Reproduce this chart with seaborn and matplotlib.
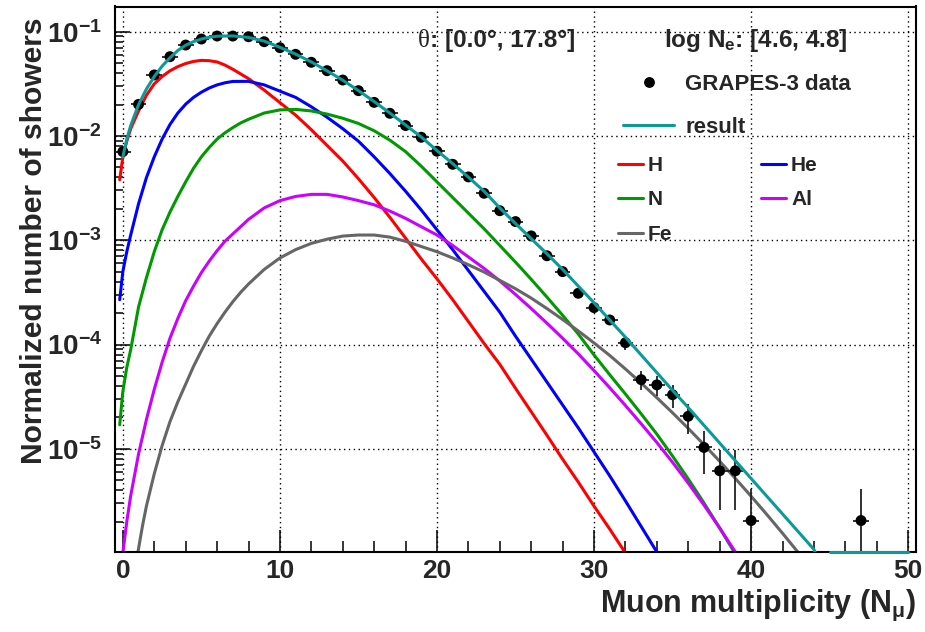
import numpy as np
import matplotlib
matplotlib.use("Agg")
import matplotlib.pyplot as plt
import seaborn as sns
from matplotlib.lines import Line2D
from matplotlib.ticker import FixedLocator, FixedFormatter, MultipleLocator, LogLocator, NullFormatter

# ---------------- data ----------------
mult = list(range(0, 41)) + [47]
data_y = [7.08e-3, 2.01e-2, 3.85e-2, 5.76e-2, 7.45e-2, 8.51e-2, 9.09e-2, 9.09e-2, 8.95e-2, 8.02e-2,
          7.03e-2, 6.07e-2, 5.09e-2, 4.23e-2, 3.44e-2, 2.72e-2, 2.10e-2, 1.65e-2, 1.26e-2, 9.72e-3,
          7.14e-3, 5.35e-3, 4.05e-3, 2.82e-3, 1.92e-3, 1.51e-3, 1.10e-3, 7.1e-4, 5.0e-4, 3.1e-4,
          2.26e-4, 1.72e-4, 1.04e-4, 4.6e-5, 4.1e-5, 3.3e-5, 2.05e-5, 1.03e-5, 6.15e-6, 6.15e-6,
          2.05e-6, 2.05e-6]
data_err = [1.2e-4, 2.0e-4, 2.8e-4, 3.4e-4, 3.9e-4, 4.2e-4, 4.3e-4, 4.3e-4, 4.3e-4, 4.1e-4,
            3.8e-4, 3.5e-4, 3.2e-4, 2.9e-4, 2.7e-4, 2.4e-4, 2.1e-4, 1.8e-4, 1.6e-4, 1.4e-4,
            1.2e-4, 1.05e-4, 9.1e-5, 7.6e-5, 6.3e-5, 5.6e-5, 4.7e-5, 3.8e-5, 3.2e-5, 2.5e-5,
            2.15e-5, 1.9e-5, 1.46e-5, 9.7e-6, 9.2e-6, 8.2e-6, 6.5e-6, 4.6e-6, 3.55e-6, 3.55e-6,
            2.05e-6, 2.05e-6]
bin_half_width = 0.5

h_x = [-0.2, 0, 0.25, 0.5, 1, 1.5, 2, 2.5, 3, 3.5, 4, 4.5, 5, 5.5, 6, 6.5, 7] + list(range(8, 33))
h_log10 = [-2.42, -2.20, -2.05, -1.93, -1.76, -1.61, -1.50, -1.43, -1.375, -1.335, -1.305,
           -1.285, -1.275, -1.278, -1.29, -1.32, -1.36,
           -1.45, -1.56, -1.68, -1.80, -1.94, -2.09, -2.24, -2.41, -2.59, -2.78,
           -2.98, -3.18, -3.37, -3.57, -3.78, -3.99, -4.19, -4.42, -4.645, -4.87,
           -5.10, -5.32, -5.55, -5.77, -6.0]

he_x = [-0.2, 0, 0.25, 0.5, 1, 1.5, 2, 2.5, 3, 3.5, 4, 4.5, 5, 5.5, 6, 6.5, 7] + list(range(8, 35))
he_log10 = [-3.57, -3.30, -3.11, -2.95, -2.65, -2.40, -2.20, -2.03, -1.89, -1.78, -1.695,
            -1.63, -1.58, -1.54, -1.51, -1.49, -1.477,
            -1.476, -1.51, -1.57, -1.63, -1.72, -1.82, -1.93, -2.05, -2.20, -2.36,
            -2.53, -2.71, -2.90, -3.09, -3.29, -3.49, -3.69, -3.92, -4.14, -4.36,
            -4.58, -4.80, -5.03, -5.26, -5.50, -5.745, -5.99]

n_x = [-0.2, 0, 0.25, 0.5, 1, 1.5, 2, 2.5, 3, 3.5, 4, 4.5, 5, 5.5, 6, 6.5, 7, 7.5] + list(range(8, 40))
n_log10 = [-4.77, -4.45, -4.22, -4.05, -3.64, -3.36, -3.11, -2.90, -2.73, -2.58, -2.44,
           -2.31, -2.20, -2.11, -2.03, -1.97, -1.92, -1.875,
           -1.84, -1.78, -1.75, -1.745, -1.76, -1.79, -1.83, -1.88, -1.95, -2.04,
           -2.15, -2.29, -2.44, -2.59, -2.74, -2.89, -3.05, -3.21, -3.375, -3.545,
           -3.72, -3.90, -4.10, -4.29, -4.475, -4.665, -4.86, -5.07, -5.29, -5.52,
           -5.76, -6.01]

al_x = [0, 0.25, 0.5, 1, 1.5, 2, 2.5, 3, 3.5, 4, 4.5, 5, 5.5, 6, 6.5, 7] + list(range(8, 40))
al_log10 = [-6.0, -5.70, -5.45, -5.05, -4.72, -4.43, -4.17, -3.94, -3.75, -3.58, -3.44,
            -3.31, -3.20, -3.10, -3.01, -2.94,
            -2.80, -2.69, -2.62, -2.58, -2.56, -2.56, -2.585, -2.62, -2.66, -2.72,
            -2.79, -2.87, -2.95, -3.05, -3.16, -3.27, -3.39, -3.52, -3.655, -3.795,
            -3.94, -4.09, -4.25, -4.415, -4.585, -4.76, -4.94, -5.13, -5.33, -5.54,
            -5.76, -5.99]

fe_x = [0.95, 1.25, 1.5, 2, 2.5, 3, 3.5, 4, 4.5, 5, 5.5, 6, 6.5, 7, 7.5] + list(range(8, 44)) + [43.2]
fe_log10 = [-6.0, -5.74, -5.55, -5.24, -4.97, -4.74, -4.55, -4.38, -4.21, -4.06, -3.92,
            -3.80, -3.69, -3.59, -3.50,
            -3.42, -3.28, -3.17, -3.09, -3.03, -2.99, -2.96, -2.95, -2.95, -2.97,
            -3.01, -3.06, -3.11, -3.17, -3.235, -3.305, -3.385, -3.465, -3.555, -3.655,
            -3.76, -3.87, -3.985, -4.105, -4.235, -4.37, -4.51, -4.655, -4.805, -4.96,
            -5.12, -5.285, -5.455, -5.63, -5.81, -5.995, -6.03]

res_x = [0, 0.25, 0.5, 1, 1.5, 2, 2.5, 3, 3.5, 4, 4.5, 5, 5.5, 6] + list(range(7, 45)) + [44.1]
res_log10 = [-2.20, -2.03, -1.90, -1.70, -1.55, -1.43, -1.33, -1.25, -1.18, -1.13, -1.095,
             -1.07, -1.053, -1.043,
             -1.04, -1.055, -1.09, -1.15, -1.215, -1.29, -1.375, -1.465, -1.565, -1.67,
             -1.78, -1.895, -2.01, -2.14, -2.265, -2.395, -2.53, -2.69, -2.84, -2.985,
             -3.13, -3.28, -3.44, -3.60, -3.765, -3.93, -4.10, -4.27, -4.44, -4.605,
             -4.775, -4.945, -5.115, -5.285, -5.455, -5.625, -5.795, -5.965, -6.0]
res_tail_x = [45, 50]

x_major_ticks = [0, 10, 20, 30, 40, 50]
y_major_ticks = [1e-5, 1e-4, 1e-3, 1e-2, 1e-1]
y_tick_labels = [r'$10^{-5}$', r'$10^{-4}$', r'$10^{-3}$', r'$10^{-2}$', r'$10^{-1}$']
y_min, y_max = 1.03e-6, 0.1745

c_h, c_he, c_n, c_al, c_fe, c_res = '#ff0000', '#0000ff', '#009900', '#cc00ff', '#666666', '#0a9a9a'

# ---------------- style ----------------
sns.set_style("white")
plt.rcParams['font.family'] = ['Liberation Sans', 'DejaVu Sans']
plt.rcParams['font.weight'] = 'bold'
plt.rcParams['axes.labelweight'] = 'bold'
plt.rcParams['mathtext.fontset'] = 'custom'
for k in ('rm', 'it', 'bf', 'sf'):
    plt.rcParams['mathtext.' + k] = 'Liberation Sans:bold'

W, H = 925, 632
fig = plt.figure(figsize=(W / 100, H / 100), dpi=100)
L, R, T, B = 115, 916, 6.5, 551.7
ax = fig.add_axes([L / W, 1 - B / H, (R - L) / W, (B - T) / H])
ax.set_yscale('log')
ax.set_xlim(-0.5, 50.5)
ax.set_ylim(y_min, y_max)

lw = 2.2
for xs, lg, col in [(h_x, h_log10, c_h), (he_x, he_log10, c_he), (n_x, n_log10, c_n),
                    (al_x, al_log10, c_al), (fe_x, fe_log10, c_fe)]:
    sns.lineplot(x=xs, y=10 ** np.array(lg), ax=ax, color=col, lw=lw,
                 estimator=None, sort=False, legend=False, zorder=2)

dy = np.array(data_y)
de = np.array(data_err)
lo = np.minimum(de, 0.9999 * dy)
ax.errorbar(mult, dy, yerr=[lo, de], xerr=bin_half_width, fmt='none',
            ecolor='#222222', elinewidth=1.3, capsize=0, zorder=3)
sns.scatterplot(x=mult, y=dy, ax=ax, color='black', s=62, edgecolor='none',
                zorder=4, legend=False)

sns.lineplot(x=res_x, y=10 ** np.array(res_log10), ax=ax, color=c_res, lw=lw,
             estimator=None, sort=False, legend=False, zorder=5)
sns.lineplot(x=res_tail_x, y=[y_min] * len(res_tail_x), ax=ax, color=c_res, lw=lw,
             estimator=None, sort=False, legend=False, zorder=6, clip_on=False)

# ---------------- axes ----------------
ax.grid(True, which='major', color='black', linestyle=(0, (1, 2.5)), linewidth=1.0)
ax.xaxis.set_major_locator(FixedLocator(x_major_ticks))
ax.xaxis.set_minor_locator(MultipleLocator(2))
ax.yaxis.set_major_locator(FixedLocator(y_major_ticks))
ax.yaxis.set_major_formatter(FixedFormatter(y_tick_labels))
ax.yaxis.set_minor_locator(LogLocator(base=10, subs=np.arange(2, 10)))
ax.yaxis.set_minor_formatter(NullFormatter())
ax.tick_params(axis='x', which='major', direction='in', length=15.6, width=1.1,
               labelsize=19, pad=5.5, color='black', bottom=True, top=False)
ax.tick_params(axis='x', which='minor', direction='in', length=7.7, width=1.1,
               color='black', bottom=True, top=False)
ax.tick_params(axis='y', which='major', direction='in', length=10.8, width=1.1,
               labelsize=20, pad=9.5, color='black', left=True, right=False)
ax.tick_params(axis='y', which='minor', direction='in', length=5.4, width=1.1,
               color='black', left=True, right=False)
for s in ax.spines.values():
    s.set_linewidth(1.5)
    s.set_color('black')

ax.set_xlabel(r'Muon multiplicity (N$_{\mu}$)', fontsize=22, fontweight='bold',
              loc='right', labelpad=3)
ax.set_ylabel('Normalized number of showers', fontsize=21.6, fontweight='bold', loc='top')
ax.yaxis.set_label_coords(-0.0836, 0.979)

# ---------------- annotations ----------------
th = fig.text(418 / W, 1 - 47 / H, 'θ', family=['Liberation Serif', 'DejaVu Serif'],
              fontweight='normal', fontsize=18, va='baseline')
ax.annotate(': [0.0°, 17.8°]', xy=(1, 0), xycoords=th, va='bottom', ha='left',
            fontsize=17.5, fontweight='bold')
fig.text(664 / W, 1 - 47 / H, r'log N$_{e}$: [4.6, 4.8]', fontsize=17.5,
         fontweight='bold', va='baseline')

# ---------------- legends ----------------
h1 = [Line2D([], [], ls='none', marker='o', ms=7.8, color='black', mec='none'),
      Line2D([], [], color=c_res, lw=lw)]
leg1 = ax.legend(h1, ['GRAPES-3 data', 'result'], loc='upper left',
                 bbox_to_anchor=(623 / W, 1 - 74 / H), bbox_transform=fig.transFigure,
                 frameon=False, fontsize=16, handlelength=2.3, handletextpad=0.5,
                 labelspacing=1.0, borderpad=0, borderaxespad=0, numpoints=1)
ax.add_artist(leg1)
h2 = [Line2D([], [], color=c, lw=lw) for c in (c_h, c_n, c_fe, c_he, c_al)]
ax.legend(h2, ['H', 'N', 'Fe', 'He', 'Al'], ncol=2, loc='upper left',
          bbox_to_anchor=(618 / W, 1 - 156 / H), bbox_transform=fig.transFigure,
          frameon=False, fontsize=15, handlelength=1.2, handletextpad=0.24,
          labelspacing=0.74, columnspacing=4.25, borderpad=0, borderaxespad=0)

fig.savefig('out.png', dpi=100)
